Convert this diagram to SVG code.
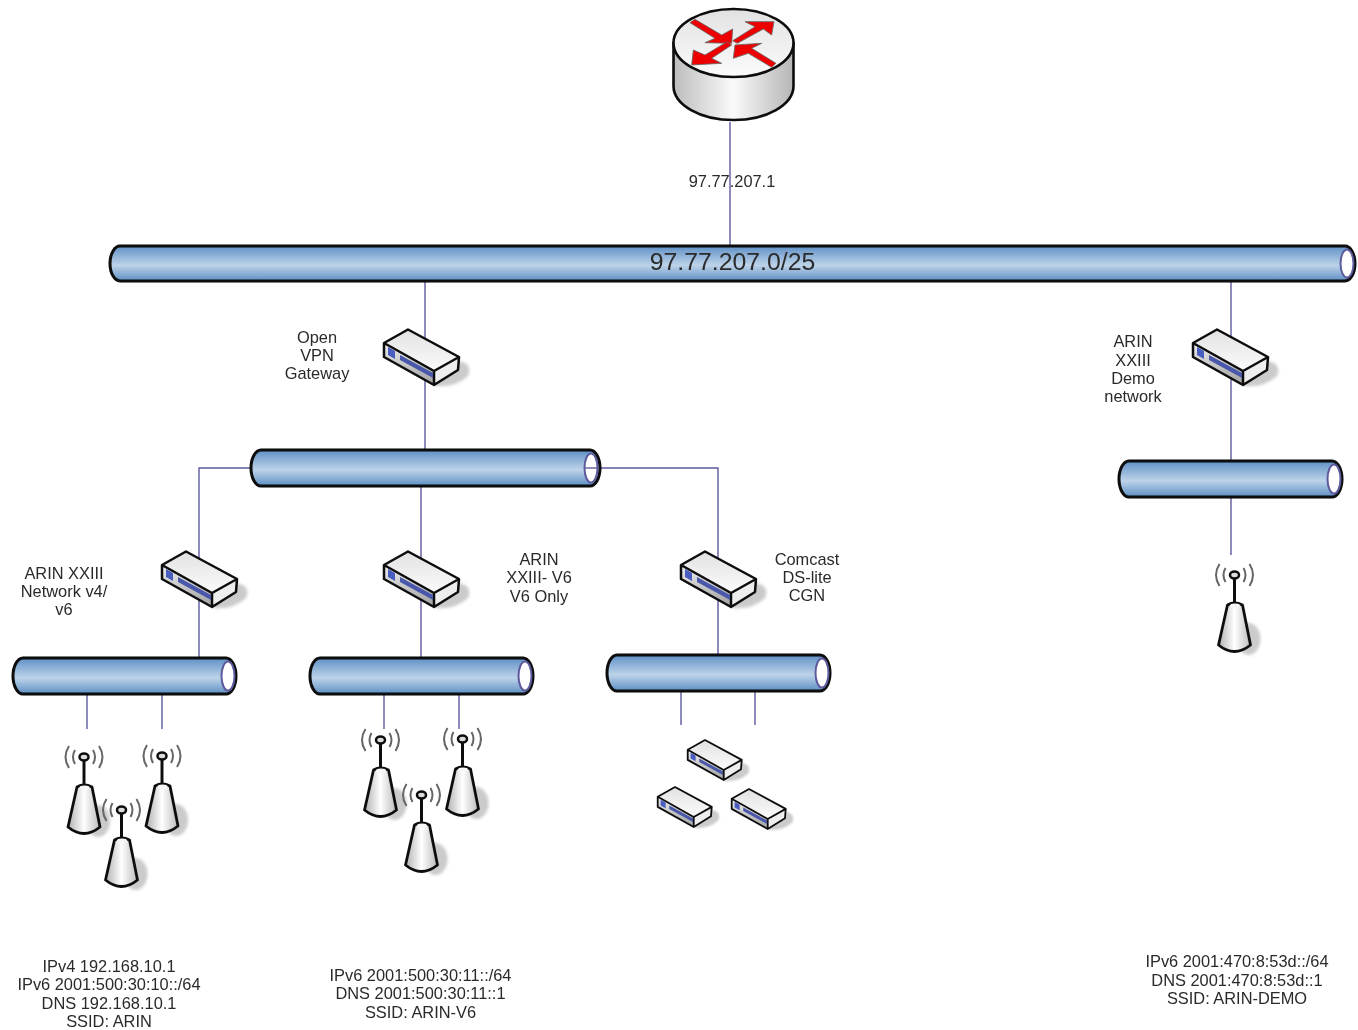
<svg xmlns="http://www.w3.org/2000/svg" width="1358" height="1030" viewBox="0 0 1358 1030">
<style>
text{font-family:"Liberation Sans",Arial,sans-serif;font-size:16.4px;fill:#2a2a2a;text-anchor:middle}
.wire{fill:none;stroke:#5d5a9e;stroke-width:1.4}
.pipe{fill:url(#pipeG);stroke:#0c0c0c;stroke-width:3}
.hole{fill:#fff;stroke:#5d5a9e;stroke-width:2}
</style>
<defs>
<filter id="soft" x="-10%" y="-10%" width="120%" height="120%"><feGaussianBlur stdDeviation="0.6"/></filter>
<filter id="sh" x="-30%" y="-30%" width="160%" height="160%"><feGaussianBlur stdDeviation="1.8"/></filter>
<linearGradient id="pipeG" x1="0" y1="0" x2="0" y2="1"><stop offset="0" stop-color="#5f90c6"/><stop offset=".55" stop-color="#bdd3e9"/><stop offset="1" stop-color="#5d8fc4"/></linearGradient>
<linearGradient id="side" x1="0" y1="0" x2="1" y2="0"><stop offset="0" stop-color="#bdbdbd"/><stop offset=".5" stop-color="#fafafa"/><stop offset="1" stop-color="#b5b5b5"/></linearGradient>
<linearGradient id="top" x1="0" y1="0" x2="0" y2="1"><stop offset="0" stop-color="#e2e2e2"/><stop offset="1" stop-color="#fbfbfb"/></linearGradient>
<linearGradient id="front" x1="0" y1="0" x2="0" y2="1"><stop offset="0" stop-color="#f0f0f0"/><stop offset="1" stop-color="#a0a0a0"/></linearGradient>
<linearGradient id="body" x1="0" y1="0" x2="1" y2="0"><stop offset="0" stop-color="#b0b0b0"/><stop offset=".5" stop-color="#fff"/><stop offset="1" stop-color="#bbb"/></linearGradient>
<g id="dev">
<path d="M54 46 L76 33 Q90 36 85 48 Q72 60 52 58Z" fill="#b5b5b5" opacity=".7" filter="url(#sh)"/>
<path d="M25 1.500 L76 29 L51 43 L1 15Z" fill="url(#top)"/>
<path d="M1 15 L51 43 L51 57 L1 29Z" fill="url(#front)"/>
<path d="M51 43 L76 29 L75 42 L51 57Z" fill="#eee"/>
<path d="M25 1.500L76 29 L75 42 L51 57 L1 29 L1 15Z M1 15 L51 43 L51 57 M51 43 L76 29" fill="none" stroke="#0c0c0c" stroke-width="2.500" stroke-linejoin="round"/>
<path d="M5 19 L12 23 L12 31 L5 27Z" fill="#4a5cc0"/>
<path d="M17 27 L50 45 L50 50 L17 32Z" fill="#4a58aa"/>
</g>
<g id="ap">
<ellipse cx="14" cy="64" rx="12" ry="16" fill="#b5b5b5" opacity=".7" filter="url(#sh)"/>
<path d="M-9 -7 Q-13 0 -9 7 M-15 -11 Q-22 0 -15 11 M9 -7 Q13 0 9 7 M15 -11 Q22 0 15 11" fill="none" stroke="#666" stroke-width="2"/>
<line x1="0" y1="0" x2="0" y2="28" stroke="#111" stroke-width="3"/>
<ellipse cx="0" cy="0" rx="4.500" ry="3.500" fill="#ddd" stroke="#111" stroke-width="2.500"/>
<path d="M-7 30 Q0 26 8 30 L16 70 Q0 83 -16 70Z" fill="url(#body)" stroke="#111" stroke-width="2.800" stroke-linejoin="round"/>
<ellipse cx="0.500" cy="30.500" rx="5" ry="2" fill="#f6f6f6"/>
</g>
</defs>
<rect width="1358" height="1030" fill="#fff"/>
<g id="connectors">
<path class="wire" d="M730 122V247"/>
<path class="wire" d="M425 281V450"/>
<path class="wire" d="M1231 281V461"/>
<path class="wire" d="M1231 497V555"/>
<path class="wire" d="M251 468H199V658"/>
<path class="wire" d="M600 468H718V655"/>
<path class="wire" d="M421 486V658"/>
<path class="wire" d="M87 694V729M162 694V729M384 694V729M459 694V729M681 691V725M755 691V725"/>
</g>
<g filter="url(#soft)">
<g id="router">
<path d="M673.500 43V86A60 34 0 0 0 793.500 86V43Z" fill="url(#side)" stroke="#0c0c0c" stroke-width="2.600"/>
<ellipse cx="733.500" cy="43" rx="60" ry="34" fill="url(#top)" stroke="#0c0c0c" stroke-width="2.600"/>
<g transform="translate(650 0) scale(.3333)" fill="#ee0000" stroke="#666" stroke-width="2.500" stroke-linejoin="round">
<path d="M120 68 L135 58 L215 105 L248 87 L245 130 L165 128 L195 115Z"/>
<path d="M248 122 L262 130 L340 87 L365 105 L372 65 L285 65 L315 80Z"/>
<path d="M245 135 L232 125 L165 165 L130 150 L125 195 L215 190 L185 175Z"/>
<path d="M378 190 L365 202 L295 160 L250 175 L255 135 L335 130 L305 145Z"/>
</g>
</g>
<g id="pipe-main"><path class="pipe" d="M120 246H1345A10 17.500 0 0 1 1345 281H120A10 17.500 0 0 1 120 246Z"/><ellipse class="hole" cx="1347" cy="263.500" rx="6.500" ry="14"/></g>
<g id="pipe-vpn"><path class="pipe" d="M261 450H590A10 18 0 0 1 590 486H261A10 18 0 0 1 261 450Z"/><ellipse class="hole" cx="591" cy="468" rx="6.500" ry="14.500"/><path class="wire" d="M585 468H598"/></g>
<g id="pipe-demo"><path class="pipe" d="M1129 461H1332A10 18 0 0 1 1332 497H1129A10 18 0 0 1 1129 461Z"/><ellipse class="hole" cx="1334" cy="479" rx="6.500" ry="14.500"/></g>
<g id="pipe-v4"><path class="pipe" d="M23 658H226A10 18 0 0 1 226 694H23A10 18 0 0 1 23 658Z"/><ellipse class="hole" cx="228" cy="676" rx="6.500" ry="14.500"/></g>
<g id="pipe-v6"><path class="pipe" d="M320 658H523A10 18 0 0 1 523 694H320A10 18 0 0 1 320 658Z"/><ellipse class="hole" cx="525" cy="676" rx="6.500" ry="14.500"/></g>
<g id="pipe-cgn"><path class="pipe" d="M617 655H820A10 18 0 0 1 820 691H617A10 18 0 0 1 617 655Z"/><ellipse class="hole" cx="822" cy="673" rx="6.500" ry="14.500"/></g>
<g id="gw-vpn"><use href="#dev" transform="translate(383 328)"/></g>
<g id="gw-demo"><use href="#dev" transform="translate(1192 328)"/></g>
<g id="gw-v4"><use href="#dev" transform="translate(161 550)"/></g>
<g id="gw-v6"><use href="#dev" transform="translate(383 550)"/></g>
<g id="gw-cgn"><use href="#dev" transform="translate(680 550)"/></g>
<g id="dev-1"><use href="#dev" transform="translate(687 739) scale(.72)"/></g>
<g id="dev-2"><use href="#dev" transform="translate(657 786) scale(.72)"/></g>
<g id="dev-3"><use href="#dev" transform="translate(731 788) scale(.72)"/></g>
<g id="ap-1"><use href="#ap" transform="translate(84 757)"/></g>
<g id="ap-2"><use href="#ap" transform="translate(162 756)"/></g>
<g id="ap-3"><use href="#ap" transform="translate(121.500 810)"/></g>
<g id="ap-4"><use href="#ap" transform="translate(380.500 740)"/></g>
<g id="ap-5"><use href="#ap" transform="translate(462.500 739)"/></g>
<g id="ap-6"><use href="#ap" transform="translate(421.500 795)"/></g>
<g id="ap-7"><use href="#ap" transform="translate(1234.500 575)"/></g>
</g>
<g id="labels">
<text x="732" y="187">97.77.207.1</text>
<text x="732.500" y="270" style="font-size:24.800px">97.77.207.0/25</text>
<text x="317" y="343">Open</text><text x="317" y="361">VPN</text><text x="317" y="379">Gateway</text>
<text x="1133" y="347">ARIN</text><text x="1133" y="366">XXIII</text><text x="1133" y="384">Demo</text><text x="1133" y="402">network</text>
<text x="64" y="579">ARIN XXIII</text><text x="64" y="597">Network v4/</text><text x="64" y="615">v6</text>
<text x="539" y="565">ARIN</text><text x="539" y="583">XXIII- V6</text><text x="539" y="602">V6 Only</text>
<text x="807" y="565">Comcast</text><text x="807" y="583">DS-lite</text><text x="807" y="601">CGN</text>
<text x="109" y="972">IPv4 192.168.10.1</text><text x="109" y="990">IPv6 2001:500:30:10::/64</text><text x="109" y="1009">DNS 192.168.10.1</text><text x="109" y="1027">SSID: ARIN</text>
<text x="420.500" y="981">IPv6 2001:500:30:11::/64</text><text x="420.500" y="999">DNS 2001:500:30:11::1</text><text x="420.500" y="1018">SSID: ARIN-V6</text>
<text x="1237" y="967">IPv6 2001:470:8:53d::/64</text><text x="1237" y="986">DNS 2001:470:8:53d::1</text><text x="1237" y="1004">SSID: ARIN-DEMO</text>
</g>
</svg>
